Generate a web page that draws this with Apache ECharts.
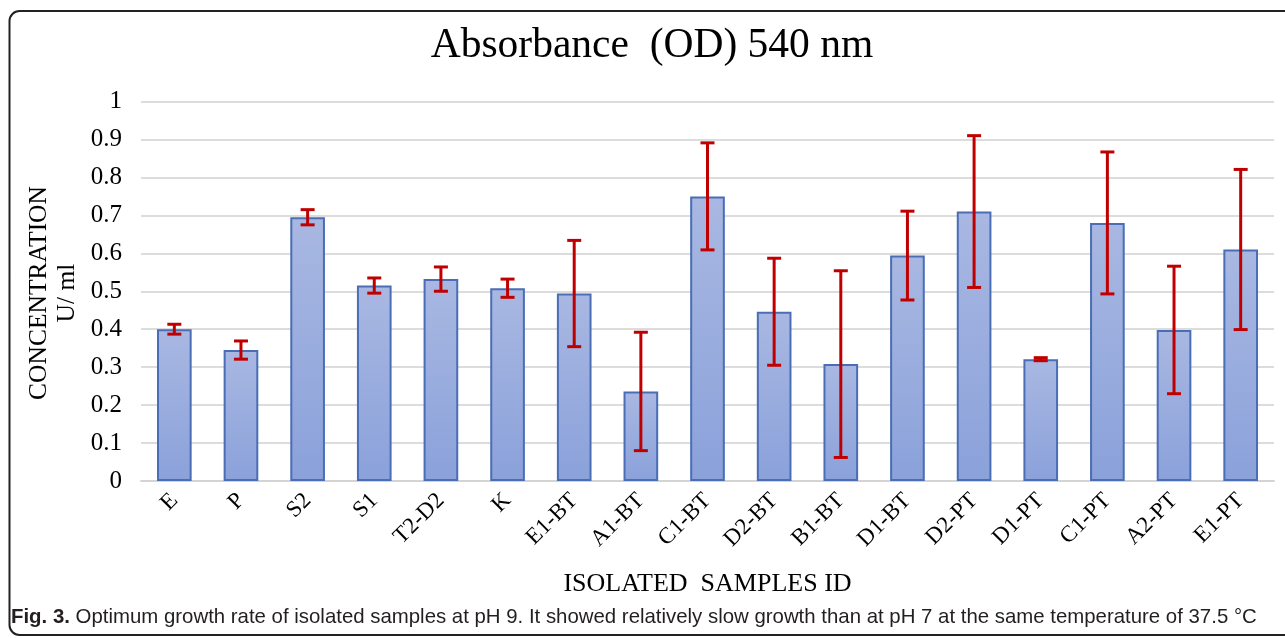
<!DOCTYPE html>
<html>
<head>
<meta charset="utf-8">
<script src="https://cdn.jsdelivr.net/npm/echarts@6/dist/echarts.min.js"></script>
<style>
  html, body { margin: 0; padding: 0; background: #fff; }
  #chart { width: 1285px; height: 638px; }
</style>
</head>
<body>
<div id="chart"></div>
<script>
  // sample ids on the x axis
  var categories = ['E', 'P', 'S2', 'S1', 'T2-D2', 'K', 'E1-BT', 'A1-BT', 'C1-BT', 'D2-BT',
    'B1-BT', 'D1-BT', 'D2-PT', 'D1-PT', 'C1-PT', 'A2-PT', 'E1-PT']
  // mean concentration
  var values = [0.40, 0.345, 0.695, 0.515, 0.532, 0.508, 0.494, 0.236, 0.750, 0.446,
    0.308, 0.594, 0.710, 0.321, 0.680, 0.398, 0.610]
  // +/- error
  var errors = [0.013, 0.024, 0.020, 0.020, 0.032, 0.024, 0.140, 0.156, 0.141, 0.141,
    0.246, 0.117, 0.200, 0.004, 0.187, 0.168, 0.211]
  var yTicks = [0, 0.1, 0.2, 0.3, 0.4, 0.5, 0.6, 0.7, 0.8, 0.9, 1]

  var chart = echarts.init(document.getElementById('chart'))

  var errData = values.map(function (v, i) {
    return [i, v - errors[i], v + errors[i]]
  })

  var options = {
    animation: false,
    title: {
      text: 'Absorbance  (OD) 540 nm',
      left: 647,
      top: 20,
      textAlign: 'center',
      textStyle: {
        fontFamily: 'Liberation Serif',
        fontSize: 41.5,
        fontWeight: 'normal',
        color: '#000'
      }
    },
    graphic: [
      {
        type: 'rect',
        shape: { x: 9.5, y: 11, width: 1300, height: 624, r: 10 },
        style: { fill: 'none', stroke: '#222', lineWidth: 2 },
        silent: true
      },
      {
        type: 'text',
        left: 11,
        top: 607,
        style: {
          text: '{b|Fig. 3.} Optimum growth rate of isolated samples at pH 9. It showed relatively slow growth than at pH 7 at the same temperature of 37.5 °C',
          fontFamily: 'Liberation Sans Narrow, Liberation Sans',
          fontSize: 20.4,
          fill: '#231f20',
          rich: {
            b: {
              fontFamily: 'Liberation Sans Narrow, Liberation Sans',
              fontSize: 20.4,
              fontWeight: 'bold',
              fill: '#231f20'
            }
          }
        }
      },
      {
        type: 'text',
        x: 53,
        y: 293,
        rotation: Math.PI / 2,
        style: {
          text: 'CONCENTRATION\nU/ ml',
          fontFamily: 'Liberation Serif',
          fontSize: 25.5,
          lineHeight: 28,
          align: 'center',
          verticalAlign: 'middle',
          fill: '#000'
        }
      }
    ],
    grid: {
      left: 141,
      right: 11,
      top: 101.5,
      bottom: 157
    },
    xAxis: {
      type: 'category',
      data: categories,
      name: 'ISOLATED  SAMPLES ID',
      nameLocation: 'middle',
      nameGap: 90,
      nameTextStyle: {
        fontFamily: 'Liberation Serif',
        fontSize: 26,
        color: '#000'
      },
      axisTick: { show: false },
      axisLine: { lineStyle: { color: '#d4d4d4', width: 2 } },
      axisLabel: {
        interval: 0,
        rotate: 45,
        margin: 16,
        fontFamily: 'Liberation Serif',
        fontSize: 23,
        color: '#000'
      }
    },
    yAxis: {
      type: 'value',
      min: 0,
      max: 1,
      interval: 0.1,
      axisLine: { show: false },
      axisTick: { show: false },
      splitLine: { lineStyle: { color: '#dcdcdc', width: 2 } },
      axisLabel: {
        margin: 19,
        fontFamily: 'Liberation Serif',
        fontSize: 25,
        color: '#000',
        formatter: function (v) {
          var t = yTicks.find(function (x) { return Math.abs(x - v) < 1e-6 })
          return t === undefined ? '' : String(t)
        }
      }
    },
    series: [
      {
        type: 'bar',
        data: values,
        barWidth: '52%',
        itemStyle: {
          color: new echarts.graphic.LinearGradient(0, 0, 0, 1, [
            { offset: 0, color: '#a9b8e2' },
            { offset: 1, color: '#8aa1da' }
          ]),
          borderColor: '#4a6db5',
          borderWidth: 2
        }
      },
      {
        type: 'custom',
        data: errData,
        z: 10,
        renderItem: function (params, api) {
          var x = api.value(0)
          var lo = api.coord([x, api.value(1)])
          var hi = api.coord([x, api.value(2)])
          var cap = 7
          var st = { stroke: '#c00000', lineWidth: 3 }
          return {
            type: 'group',
            children: [
              { type: 'line', shape: { x1: hi[0], y1: hi[1], x2: lo[0], y2: lo[1] }, style: st },
              { type: 'line', shape: { x1: hi[0] - cap, y1: hi[1], x2: hi[0] + cap, y2: hi[1] }, style: st },
              { type: 'line', shape: { x1: lo[0] - cap, y1: lo[1], x2: lo[0] + cap, y2: lo[1] }, style: st }
            ]
          }
        }
      }
    ]
  }

  chart.setOption(options, true)
</script>
</body>
</html>
